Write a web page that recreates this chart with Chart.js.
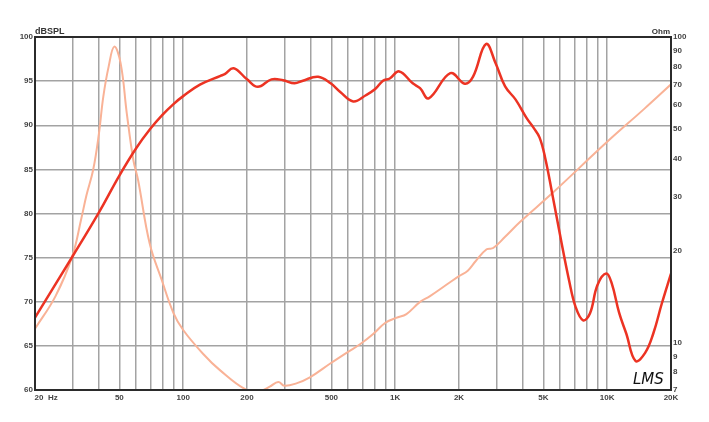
<!DOCTYPE html>
<html>
<head>
<meta charset="utf-8">
<script src="https://cdn.jsdelivr.net/npm/chart.js@4.4.1/dist/chart.umd.min.js"></script>
<style>
  html, body { margin: 0; padding: 0; background: #ffffff; }
  #wrap { width: 709px; height: 422px; }
</style>
</head>
<body>
<div id="wrap"><canvas id="c" width="709" height="422"></canvas></div>
<script>
// ---- Data ----
const freqSPL = [20, 30, 40, 50, 60, 70, 80, 90, 100, 120, 150, 157, 173, 200, 225, 261, 296, 335, 367, 433, 496, 549, 634, 727, 805, 876, 943, 1045, 1210, 1310, 1440, 1820, 2130, 2330, 2680, 2980, 3300, 3700, 4170, 4500, 4800, 5100, 5500, 6100, 6600, 7100, 7700, 8300, 9000, 9900, 10500, 11400, 12300, 13600, 15100, 16500, 18100, 20000];
const splValues = [68.2, 75.1, 80.1, 84.3, 87.4, 89.6, 91.2, 92.4, 93.3, 94.6, 95.6, 95.8, 96.45, 95.2, 94.35, 95.2, 95.1, 94.75, 95.05, 95.5, 94.75, 93.8, 92.7, 93.4, 94.1, 95.05, 95.3, 96.1, 94.75, 94.2, 93.05, 95.9, 94.7, 95.5, 99.2, 97.0, 94.4, 92.9, 90.8, 89.7, 88.6, 86.3, 82.3, 76.6, 72.5, 69.4, 67.9, 68.7, 71.9, 73.2, 72.1, 68.7, 66.4, 63.3, 64.2, 66.4, 69.8, 73.2];

const freqZ = [20, 25, 30, 33, 35, 37.6, 40, 42, 44.5, 47.3, 50.7, 54.2, 58.2, 61.3, 69.5, 79.3, 90, 100, 124, 149, 199, 230, 256, 281, 300, 342, 396, 496, 595, 685, 790, 896, 1010, 1130, 1310, 1460, 1800, 2000, 2200, 2400, 2700, 2900, 3300, 3900, 5500, 10000, 15000, 20000];
const impedanceValues = [11.1, 14.2, 19.2, 25.3, 30.4, 36.7, 48, 63.8, 80, 93, 82, 56.3, 39.6, 34, 21.1, 16.0, 12.5, 11.0, 9.2, 8.13, 7.0, 6.95, 7.18, 7.44, 7.23, 7.36, 7.7, 8.56, 9.3, 9.9, 10.7, 11.6, 12.05, 12.4, 13.6, 14.2, 15.7, 16.5, 17.2, 18.5, 20.2, 20.4, 22.2, 24.9, 30.8, 45.4, 58.3, 70];

const xGridValues = [20, 30, 40, 50, 60, 70, 80, 90, 100, 200, 300, 400, 500, 600, 700, 800, 900, 1000, 2000, 3000, 4000, 5000, 6000, 7000, 8000, 9000, 10000, 20000];
const xTickLabels = ['          20  Hz', '', '', '50', '', '', '', '', '100', '200', '', '', '500', '', '', '', '', '1K', '2K', '', '', '5K', '', '', '', '', '10K', '20K'];
const splTicks = [60, 65, 70, 75, 80, 85, 90, 95, 100];
const ohmTicks = [7, 8, 9, 10, 20, 30, 40, 50, 60, 70, 80, 90, 100];

// ---- Build datasets ----
const splPoints = freqSPL.map((f, i) => ({ x: f, y: splValues[i] }));
const zPoints = freqZ.map((f, i) => ({ x: f, y: impedanceValues[i] }));

const tickFont = { family: "'Liberation Sans', Arial, sans-serif", size: 8, weight: 'bold' };
const tickColor = '#444444';
const gridColor = '#a3a3a3';

const decor = {
  id: 'decor',
  afterDraw(chart) {
    const ctx = chart.ctx;
    const a = chart.chartArea;
    ctx.save();
    ctx.strokeStyle = '#2b2b2b';
    ctx.lineWidth = 2;
    ctx.strokeRect(a.left, a.top, a.right - a.left, a.bottom - a.top);
    ctx.fillStyle = '#333333';
    ctx.font = "bold 9px 'Liberation Sans', Arial, sans-serif";
    ctx.textAlign = 'left';
    ctx.textBaseline = 'alphabetic';
    ctx.fillText('dBSPL', a.left, a.top - 3);
    ctx.font = "bold 8px 'Liberation Sans', Arial, sans-serif";
    ctx.textAlign = 'right';
    ctx.fillText('Ohm', a.right - 1, a.top - 3);
    ctx.fillStyle = '#111111';
    ctx.font = "italic 15px 'DejaVu Sans', sans-serif";
    ctx.textAlign = 'left';
    ctx.fillText('LMS', 633, 384);
    ctx.restore();
  }
};

new Chart(document.getElementById('c'), {
  type: 'line',
  data: {
    datasets: [
      {
        label: 'SPL',
        data: splPoints,
        yAxisID: 'y',
        borderColor: '#ec3323',
        borderWidth: 2.5,
        pointRadius: 0,
        fill: false,
        tension: 0.4
      },
      {
        label: 'Impedance',
        data: zPoints,
        yAxisID: 'y2',
        borderColor: '#f9b296',
        borderWidth: 2,
        pointRadius: 0,
        fill: false,
        tension: 0.4
      }
    ]
  },
  options: {
    responsive: false,
    animation: false,
    events: [],
    layout: { padding: { top: 37, left: 0, right: 0, bottom: 0 } },
    plugins: { legend: { display: false }, tooltip: { enabled: false }, title: { display: false } },
    scales: {
      x: {
        type: 'logarithmic',
        min: 20,
        max: 20000,
        afterBuildTicks: (s) => { s.ticks = xGridValues.map(v => ({ value: v })); },
        afterFit: (s) => { s.height = 32; },
        ticks: {
          autoSkip: false,
          maxRotation: 0,
          minRotation: 0,
          padding: 3,
          font: tickFont,
          color: tickColor,
          callback: (v, i) => xTickLabels[i]
        },
        grid: { color: gridColor, lineWidth: 1.5, drawTicks: false },
        border: { display: false }
      },
      y: {
        type: 'linear',
        position: 'left',
        min: 60,
        max: 100,
        afterBuildTicks: (s) => { s.ticks = splTicks.map(v => ({ value: v })); },
        afterFit: (s) => { s.width = 35; },
        ticks: { padding: 2, font: tickFont, color: tickColor, callback: (v) => String(v) },
        grid: { color: gridColor, lineWidth: 1.5, drawTicks: false },
        border: { display: false }
      },
      y2: {
        type: 'logarithmic',
        position: 'right',
        min: 7,
        max: 100,
        afterBuildTicks: (s) => { s.ticks = ohmTicks.map(v => ({ value: v })); },
        afterFit: (s) => { s.width = 38; },
        ticks: { padding: 2, font: tickFont, color: tickColor, callback: (v) => String(v) },
        grid: { display: false, drawTicks: false },
        border: { display: false }
      }
    }
  },
  plugins: [decor]
});
</script>
</body>
</html>
